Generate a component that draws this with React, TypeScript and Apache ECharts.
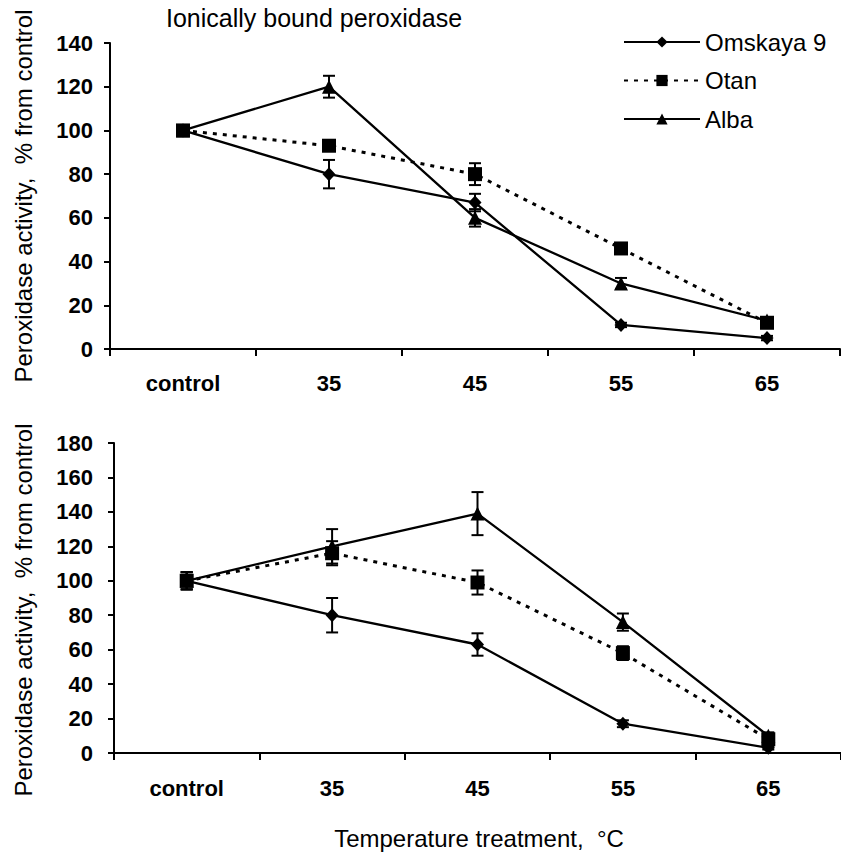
import React, { useEffect, useRef } from "react";
import * as echarts from "echarts";

const categories = ["control", "35", "45", "55", "65"];
const seriesNames = ["Omskaya 9", "Otan", "Alba"];

const yMaxTop = 140;
const yMaxBottom = 180;
const yStep = 20;

// Top panel: ionically bound peroxidase
const omskayaTop = [100, 80, 67, 11, 5];
const omskayaTopErr = [2, 6.5, 4, 1, 1];
const otanTop = [100, 93, 80, 46, 12];
const otanTopErr = [2, 2, 5, 2, 2];
const albaTop = [100, 120, 60, 30, 13];
const albaTopErr = [2, 5, 4, 2.5, 1];

// Bottom panel
const omskayaBottom = [100, 80, 63, 17, 3];
const omskayaBottomErr = [5, 10, 6.5, 2, 1];
const otanBottom = [100, 116, 99, 58, 8];
const otanBottomErr = [5, 7, 7, 4, 2];
const albaBottom = [100, 120, 139, 76, 10];
const albaBottomErr = [5, 10, 12.5, 5, 2];

const FONT = "Liberation Sans, Arial, sans-serif";

const symbols = ["diamond", "rect", "triangle"];
const symbolSizes: any[] = [[13, 14], 14, 14];
const lineTypes: any[] = ["solid", [4, 6], "solid"];

function errData(vals: number[], errs: number[]) {
  return vals.map((v, i) => [i, v - errs[i], v + errs[i]]);
}

function errorRender(params: any, api: any) {
  const x = api.value(0);
  const lo = api.coord([x, api.value(1)]);
  const hi = api.coord([x, api.value(2)]);
  const w = 6;
  const st = { stroke: "#000", lineWidth: 2 };
  return {
    type: "group",
    children: [
      { type: "line", shape: { x1: lo[0], y1: lo[1], x2: hi[0], y2: hi[1] }, style: st },
      { type: "line", shape: { x1: lo[0] - w, y1: lo[1], x2: lo[0] + w, y2: lo[1] }, style: st },
      { type: "line", shape: { x1: hi[0] - w, y1: hi[1], x2: hi[0] + w, y2: hi[1] }, style: st },
    ],
  };
}

export default function App() {
  const ref = useRef<HTMLDivElement>(null);

  useEffect(() => {
    if (!ref.current) return;
    const chart = echarts.init(ref.current, null, { renderer: "svg" });

    const topVals = [omskayaTop, otanTop, albaTop];
    const topErrs = [omskayaTopErr, otanTopErr, albaTopErr];
    const botVals = [omskayaBottom, otanBottom, albaBottom];
    const botErrs = [omskayaBottomErr, otanBottomErr, albaBottomErr];

    const series: any[] = [];
    [0, 1].forEach((g) => {
      const vals = g === 0 ? topVals : botVals;
      const errs = g === 0 ? topErrs : botErrs;
      seriesNames.forEach((name, k) => {
        series.push({
          type: "custom",
          name: name + " error " + g,
          xAxisIndex: g,
          yAxisIndex: g,
          renderItem: errorRender,
          encode: { x: 0, y: [1, 2] },
          data: errData(vals[k], errs[k]),
          z: 2,
          silent: true,
        });
      });
      seriesNames.forEach((name, k) => {
        series.push({
          type: "line",
          name,
          xAxisIndex: g,
          yAxisIndex: g,
          data: vals[k],
          symbol: symbols[k],
          symbolSize: symbolSizes[k],
          showAllSymbol: true,
          itemStyle: { color: "#000" },
          lineStyle: { color: "#000", width: k === 1 ? 3 : 2.3, type: lineTypes[k] },
          z: 3,
        });
      });
    });

    const xAxisCommon = {
      type: "category",
      data: categories,
      boundaryGap: true,
      axisLine: { lineStyle: { color: "#000", width: 2 } },
      axisTick: { show: true, alignWithLabel: false, length: 7, lineStyle: { color: "#000", width: 2 } },
      axisLabel: { color: "#000", fontFamily: FONT, fontSize: 22, fontWeight: "bold" },
      splitLine: { show: false },
    };
    const yAxisCommon = {
      type: "value",
      min: 0,
      interval: yStep,
      axisLine: { show: true, lineStyle: { color: "#000", width: 2 } },
      axisTick: { show: true, length: 6, lineStyle: { color: "#000", width: 2 } },
      axisLabel: { color: "#000", fontFamily: FONT, fontSize: 22, fontWeight: "bold" },
      splitLine: { show: false },
    };

    chart.setOption({
      animation: false,
      backgroundColor: "#fff",
      title: {
        text: "Ionically bound peroxidase",
        left: 166,
        top: 5,
        padding: 0,
        textStyle: { color: "#000", fontFamily: FONT, fontSize: 25, fontWeight: "normal" },
      },
      legend: {
        data: seriesNames,
        orient: "vertical",
        left: 623,
        top: 30,
        padding: 0,
        itemWidth: 76,
        itemHeight: 14,
        itemGap: 14.5,
        textStyle: { color: "#000", fontFamily: FONT, fontSize: 24, lineHeight: 24 },
        selectedMode: false,
      },
      grid: [
        { left: 110, top: 43, width: 730, height: 306 },
        { left: 114, top: 443, width: 727, height: 310 },
      ],
      xAxis: [
        { ...xAxisCommon, gridIndex: 0, axisLabel: { ...xAxisCommon.axisLabel, margin: 23 } },
        { ...xAxisCommon, gridIndex: 1, axisLabel: { ...xAxisCommon.axisLabel, margin: 24 } },
      ],
      yAxis: [
        { ...yAxisCommon, gridIndex: 0, max: yMaxTop, axisLabel: { ...yAxisCommon.axisLabel, margin: 17 } },
        { ...yAxisCommon, gridIndex: 1, max: yMaxBottom, axisLabel: { ...yAxisCommon.axisLabel, margin: 21 } },
      ],
      graphic: [
        {
          type: "text",
          x: 23,
          y: 196,
          rotation: Math.PI / 2,
          style: {
            text: "Peroxidase activity,  % from control",
            fill: "#000",
            font: `24px ${FONT}`,
            align: "center",
            verticalAlign: "middle",
          },
        },
        {
          type: "text",
          x: 23,
          y: 610,
          rotation: Math.PI / 2,
          style: {
            text: "Peroxidase activity,  % from control",
            fill: "#000",
            font: `24px ${FONT}`,
            align: "center",
            verticalAlign: "middle",
          },
        },
        {
          type: "text",
          x: 479,
          y: 838,
          style: {
            text: "Temperature treatment,  °C",
            fill: "#000",
            font: `24px ${FONT}`,
            align: "center",
            verticalAlign: "middle",
          },
        },
      ],
      series,
    });

    return () => chart.dispose();
  }, []);

  return (
    <div
      ref={ref}
      style={{ position: "absolute", left: 0, top: 0, width: 841, height: 854 }}
    />
  );
}
